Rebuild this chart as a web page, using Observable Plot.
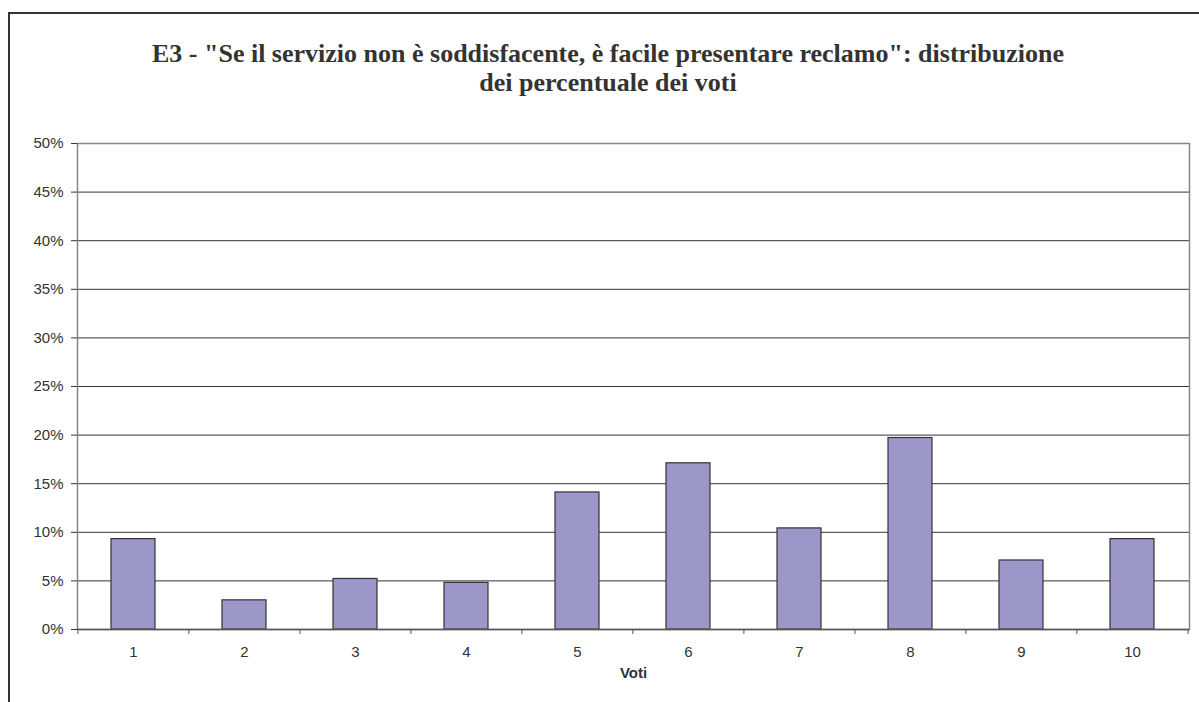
<!DOCTYPE html>
<html>
<head>
<meta charset="utf-8">
<script src="https://cdn.jsdelivr.net/npm/d3@7"></script>
<script src="https://cdn.jsdelivr.net/npm/@observablehq/plot@0.6"></script>
<style>
  html, body { margin: 0; padding: 0; background: #fff; overflow: hidden; width: 1199px; height: 702px; }
  #frame {
    position: absolute; left: 8px; top: 12px; width: 1220px; height: 720px;
    border: 2px solid #333; box-sizing: border-box; z-index: 2; pointer-events: none;
  }
  #title {
    position: absolute; left: 8px; width: 1200px; top: 39px;
    text-align: center; font-family: "Liberation Serif", "Times New Roman", serif;
    font-weight: bold; font-size: 26px; line-height: 29px; color: #333;
  }
  #chart { position: absolute; left: 0; top: 120px; z-index: 1; }
</style>
</head>
<body>
<div id="frame"></div>
<div id="title">E3 - "Se il servizio non è soddisfacente, è facile presentare reclamo": distribuzione<br>dei percentuale dei voti</div>
<div id="chart"></div>
<script>
// Voti (scores 1–10) and the share of answers for each, in percent
const voti = ["1", "2", "3", "4", "5", "6", "7", "8", "9", "10"];
const percentuali = [9.3, 3.0, 5.2, 4.8, 14.1, 17.1, 10.4, 19.7, 7.1, 9.3];
const yTicks = [0, 5, 10, 15, 20, 25, 30, 35, 40, 45, 50];

const data = voti.map((v, i) => ({voto: v, pct: percentuali[i]}));

const W = 1199, H = 582;
const mLeft = 77, mRight = 10, mTop = 23, mBottom = 73;
const step = (W - mLeft - mRight) / voti.length;

const plot = Plot.plot({
  width: W,
  height: H,
  marginLeft: mLeft,
  marginRight: mRight,
  marginTop: mTop,
  marginBottom: mBottom,
  style: {fontFamily: "'Liberation Sans', Arial, sans-serif", fontSize: "15px", color: "#333", background: "transparent", overflow: "visible"},
  x: {type: "band", domain: voti, paddingInner: 0.6, paddingOuter: 0.3, label: null},
  y: {domain: [0, 50], label: null},
  marks: [
    // horizontal gridlines
    Plot.ruleY(yTicks.filter(t => t > 0 && t < 50), {stroke: "#333", strokeWidth: 1}),
    Plot.barY(data, {x: "voto", y: "pct", fill: "#9c97c9", stroke: "#333", strokeWidth: 1.2}),
    Plot.frame({stroke: "#8a8482", strokeWidth: 1.5}),
    Plot.ruleY([0], {stroke: "#555", strokeWidth: 1.5}),
    // category boundary ticks under the baseline
    Plot.ruleX(voti, {x: d => d, y1: 0, y2: 0, dx: -step / 2, insetBottom: -5, stroke: "#555"}),
    Plot.ruleX([voti[voti.length - 1]], {x: d => d, y1: 0, y2: 0, dx: step / 2, insetBottom: -5, stroke: "#555"}),
    Plot.axisY({ticks: yTicks, tickFormat: d => d + "%", tickSize: 6, tickPadding: 8, stroke: "#333", fill: "#333"}),
    Plot.axisX({tickSize: 0, tickPadding: 17, fill: "#333"}),
    Plot.text(["Voti"], {frameAnchor: "bottom", dy: 48, text: d => d, fontWeight: "bold", fontSize: 15, fill: "#333"})
  ]
});

document.getElementById("chart").appendChild(plot);
</script>
</body>
</html>
